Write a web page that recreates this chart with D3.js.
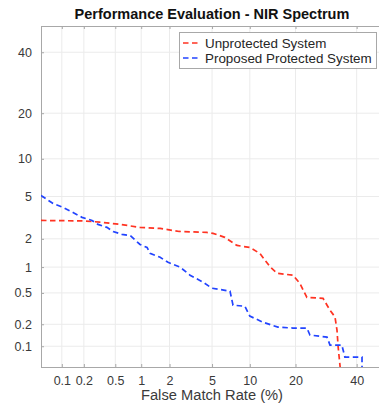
<!DOCTYPE html>
<html>
<head>
<meta charset="utf-8">
<script src="https://cdn.jsdelivr.net/npm/d3@7"></script>
<style>
  body { margin: 0; background: #fff; }
  svg { display: block; font-family: "Liberation Sans", Arial, Helvetica, sans-serif; }
</style>
</head>
<body>
<svg id="chart" width="379" height="409"></svg>
<script>
// tick labels (percent) used on both axes
const tickLabels = [0.1, 0.2, 0.5, 1, 2, 5, 10, 20, 40];

const seriesNames = ["Unprotected System", "Proposed Protected System"];

// Unprotected System (FMR %, FNMR %)
const fmrUnprot = [0.05, 0.2, 0.32, 0.57, 0.97, 1.6, 2.5, 4.5, 5.1, 6.4, 8.0, 10, 11.8, 13.9, 15.4, 19.3, 21.2, 23.2, 28.2, 30.5, 32.2, 32.9, 33.3, 34];
const fnmrUnprot = [3.03, 3.0, 2.92, 2.78, 2.6, 2.54, 2.37, 2.32, 2.27, 2.07, 1.71, 1.63, 1.41, 1.0, 0.85, 0.81, 0.65, 0.44, 0.43, 0.305, 0.25, 0.167, 0.098, 0.05];

// Proposed Protected System
const fmrProt = [0.05, 0.075, 0.104, 0.143, 0.189, 0.256, 0.305, 0.395, 0.47, 0.6, 0.75, 0.97, 1.16, 1.25, 1.6, 1.93, 2.54, 3.17, 4.17, 5.0, 7.05, 7.45, 9.2, 10, 12.4, 15.6, 19.3, 23.2, 24.1, 29.5, 30.5, 34.6, 35.7, 42, 42];
const fnmrProt = [5.1, 4.34, 4.0, 3.6, 3.24, 3.03, 2.78, 2.6, 2.37, 2.22, 2.16, 1.75, 1.63, 1.41, 1.28, 1.13, 1.0, 0.81, 0.67, 0.57, 0.525, 0.353, 0.342, 0.256, 0.213, 0.183, 0.178, 0.178, 0.143, 0.134, 0.104, 0.104, 0.07, 0.07, 0.05];

const colors = ["#ff3322", "#2244ff"];

// inverse normal cdf (Acklam)
function probit(p) {
  const a = [-3.969683028665376e+01, 2.209460984245205e+02, -2.759285104469687e+02, 1.383577518672690e+02, -3.066479806614716e+01, 2.506628277459239e+00];
  const b = [-5.447609879822406e+01, 1.615858368580409e+02, -1.556989798598866e+02, 6.680131188771972e+01, -1.328068155288572e+01];
  const c = [-7.784894002430293e-03, -3.223964580411365e-01, -2.400758277161838e+00, -2.549732539343734e+00, 4.374664141464968e+00, 2.938163982698783e+00];
  const d = [7.784695709041462e-03, 3.224671290700398e-01, 2.445134137142996e+00, 3.754408661907416e+00];
  const pl = 0.02425;
  if (p < pl) {
    const q = Math.sqrt(-2 * Math.log(p));
    return (((((c[0]*q+c[1])*q+c[2])*q+c[3])*q+c[4])*q+c[5]) / ((((d[0]*q+d[1])*q+d[2])*q+d[3])*q+1);
  }
  if (p <= 1 - pl) {
    const q = p - 0.5, r = q * q;
    return (((((a[0]*r+a[1])*r+a[2])*r+a[3])*r+a[4])*r+a[5])*q / (((((b[0]*r+b[1])*r+b[2])*r+b[3])*r+b[4])*r+1);
  }
  const q = Math.sqrt(-2 * Math.log(1 - p));
  return -(((((c[0]*q+c[1])*q+c[2])*q+c[3])*q+c[4])*q+c[5]) / ((((d[0]*q+d[1])*q+d[2])*q+d[3])*q+1);
}
const pz = v => probit(v / 100);

const mLeft = 41, mRight = 383, mTop = 26, mBottom = 367;
const svg = d3.select("#chart");

const x = d3.scaleLinear().domain([pz(0.05), pz(50)]).range([mLeft, mRight]);
const y = d3.scaleLinear().domain([pz(0.05), pz(50)]).range([mBottom, mTop]);

// grid
const grid = svg.append("g").attr("stroke", "#ebebeb").attr("stroke-width", 1);
tickLabels.forEach(t => {
  grid.append("line").attr("x1", x(pz(t))).attr("x2", x(pz(t))).attr("y1", mTop).attr("y2", mBottom);
  grid.append("line").attr("y1", y(pz(t))).attr("y2", y(pz(t))).attr("x1", mLeft).attr("x2", mRight);
});

// axes
const fmt = d => tickLabels.find(t => Math.abs(pz(t) - d) < 1e-9);
const xAxis = d3.axisBottom(x).tickValues(tickLabels.map(pz)).tickFormat(fmt).tickSize(-3).tickPadding(9);
const yAxis = d3.axisLeft(y).tickValues(tickLabels.map(pz)).tickFormat(fmt).tickSize(-3).tickPadding(9);

const gx = svg.append("g").attr("transform", `translate(0,${mBottom})`).call(xAxis);
const gy = svg.append("g").attr("transform", `translate(${mLeft},0)`).call(yAxis);
svg.append("g").attr("transform", `translate(0,${mTop})`).call(d3.axisTop(x).tickValues(tickLabels.map(pz)).tickFormat("").tickSize(-3));

[gx, gy].forEach(g => {
  g.selectAll(".tick text").attr("fill", "#3a3a3a").style("font-size", "12.5px");
});
svg.selectAll(".domain").remove();
svg.selectAll(".tick line").attr("stroke", "#a8a8a8");

svg.append("rect").attr("x", mLeft + 0.5).attr("y", mTop + 0.5)
  .attr("width", mRight - mLeft).attr("height", mBottom - mTop)
  .attr("fill", "none").attr("stroke", "#a8a8a8").attr("stroke-width", 1);

// curves
svg.append("clipPath").attr("id", "clip").append("rect")
  .attr("x", mLeft).attr("y", mTop).attr("width", mRight - mLeft).attr("height", mBottom - mTop);

const line = d3.line().x(d => x(pz(d[0]))).y(d => y(pz(d[1])));
const series = [
  d3.zip(fmrUnprot, fnmrUnprot),
  d3.zip(fmrProt, fnmrProt)
];
series.forEach((s, i) => {
  svg.append("path").datum(s)
    .attr("clip-path", "url(#clip)")
    .attr("d", line)
    .attr("fill", "none")
    .attr("stroke", colors[i])
    .attr("stroke-width", 1.7)
    .attr("stroke-dasharray", "5.5,3.5");
});

// title and label
svg.append("text").attr("x", (mLeft + mRight) / 2).attr("y", 19)
  .attr("text-anchor", "middle").attr("font-weight", "bold").attr("font-size", 14.5)
  .attr("fill", "#111").text("Performance Evaluation - NIR Spectrum");

svg.append("text").attr("x", (mLeft + mRight) / 2).attr("y", 400)
  .attr("text-anchor", "middle").attr("font-size", 14.7)
  .attr("fill", "#3a3a3a").text("False Match Rate (%)");

// legend
const lg = svg.append("g");
lg.append("rect").attr("x", 179.5).attr("y", 32.5).attr("width", 197).attr("height", 36)
  .attr("fill", "#fff").attr("stroke", "#a8a8a8");
seriesNames.forEach((n, i) => {
  const yy = 43 + i * 15;
  lg.append("line").attr("x1", 183).attr("x2", 199).attr("y1", yy).attr("y2", yy)
    .attr("stroke", colors[i]).attr("stroke-width", 1.7).attr("stroke-dasharray", "5.5,3.5");
  lg.append("text").attr("x", 205).attr("y", yy + 4.5).attr("font-size", 13.4)
    .attr("fill", "#262626").text(n);
});
</script>
</body>
</html>
